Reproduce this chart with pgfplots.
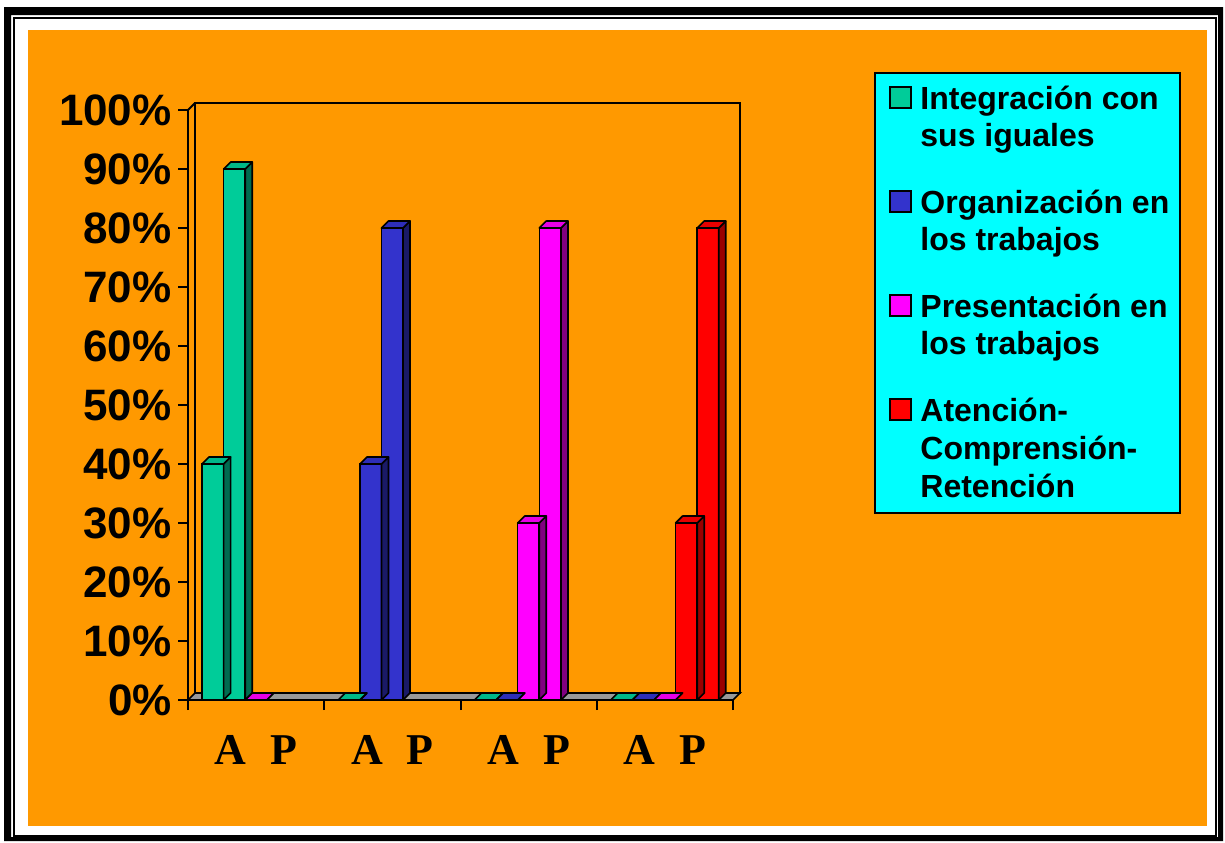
\documentclass[border=0pt]{standalone}
\usepackage{fontspec}
\setmainfont{Liberation Sans}
\newfontfamily\timesfont{Liberation Serif}
\usepackage{pgfplots}
\usepackage{pgfplotstable}
\pgfplotsset{compat=1.18}

\definecolor{bgorange}{HTML}{FF9900}
\definecolor{cgreen}{HTML}{00CC99}
\definecolor{cgreentop}{HTML}{00B88A}
\definecolor{cgreenside}{HTML}{006B50}
\definecolor{cblue}{HTML}{3333CC}
\definecolor{cbluetop}{HTML}{2E2EB8}
\definecolor{cblueside}{HTML}{1A1A66}
\definecolor{cmag}{HTML}{FF00FF}
\definecolor{cmagtop}{HTML}{E600E6}
\definecolor{cmagside}{HTML}{800080}
\definecolor{cred}{HTML}{FF0000}
\definecolor{credtop}{HTML}{E60000}
\definecolor{credside}{HTML}{990000}
\definecolor{floorgray}{HTML}{999999}
\definecolor{legcyan}{HTML}{00FFFF}

% x = group index + position of the bar inside the group
\pgfplotstableread{
x y
0.182 40
0.341 90
1.182 0
2.182 0
3.182 0
}\tgreen
\pgfplotstableread{
x y
1.341 40
1.499 80
2.341 0
3.341 0
}\tblue
\pgfplotstableread{
x y
0.499 0
2.499 30
2.658 80
3.499 0
}\tmag
\pgfplotstableread{
x y
3.658 30
3.816 80
}\tred

\pgfdeclareplotmark{empty3d}{}
\pgfplotsset{
  faces/.style 2 args={
    only marks, mark=empty3d, scatter, point meta=y,
    visualization depends on={rawy \as \rawy},
    scatter/@pre marker code/.code={%
      \pgfmathsetmacro\hhA{-\rawy*2.95}%
      \pgfmathsetmacro\hhB{3.5-\rawy*2.95}%
      \filldraw[fill=#2, draw=black, line width=0.8pt, line join=round] (5.4pt,0pt) -- (8.9pt,3.5pt) -- (8.9pt,\hhB pt) -- (5.4pt,\hhA pt) -- cycle;
      \filldraw[fill=#1, draw=black, line width=0.8pt, line join=round] (-5.4pt,0pt) -- (5.4pt,0pt) -- (8.9pt,3.5pt) -- (-1.9pt,3.5pt) -- cycle;
    },
    scatter/@post marker code/.code={},
  },
  front/.style={ybar, bar width=10.8pt, bar shift=0pt, fill=#1, draw=black, line width=0.8pt},
}

\begin{document}
\begin{tikzpicture}
\begin{scope}[x=0.5pt,y=-0.5pt]
  \fill[white] (0,0) rectangle (1225,842);
  \fill[black, even odd rule] (4,7) rectangle (1223,841) (11,15) rectangle (1218,837);
  \draw[black, line width=1pt] (14,18) rectangle (1216,836);
  \fill[bgorange] (28,30) rectangle (1207,826);
\end{scope}

\begin{axis}[
  at={(94pt,-350pt)}, anchor=south west,
  scale only axis, width=272.5pt, height=295pt,
  xmin=0, xmax=4, ymin=0, ymax=100,
  clip=false,
  axis lines=left,
  axis line style={-, line width=1pt, black},
  tick style={black, line width=1pt},
  tick align=outside,
  major tick length=5pt,
  xtick={0,1,2,3,4},
  xticklabels={,,,,},
  extra x ticks={0.5,1.5,2.5,3.5},
  extra x tick labels={{A\hspace{12pt}P},{A\hspace{12pt}P},{A\hspace{12pt}P},{A\hspace{12pt}P}},
  extra x tick style={major tick length=0pt,
    xticklabel style={font=\timesfont\bfseries\fontsize{22}{22}\selectfont, yshift=-14pt}},
  ytick={0,10,20,30,40,50,60,70,80,90,100},
  yticklabels={0\%,10\%,20\%,30\%,40\%,50\%,60\%,70\%,80\%,90\%,100\%},
  yticklabel style={font=\bfseries\fontsize{22}{22}\selectfont, inner sep=0pt, xshift=-3pt},
]
  % floor and walls
  \filldraw[fill=floorgray, draw=black, line width=0.8pt]
    (axis cs:0,0) -- (axis cs:4,0) -- (axis cs:4.0514,1.186) -- (axis cs:0.0514,1.186) -- cycle;
  \draw[black, line width=1pt] (axis cs:0.0514,1.186) rectangle (axis cs:4.0514,101.186);
  \draw[black, line width=1pt] (axis cs:0,100) -- (axis cs:0.0514,101.186);

  % depth faces
  \addplot[faces={cgreentop}{cgreenside}] table {\tgreen};
  \addplot[faces={cbluetop}{cblueside}] table {\tblue};
  \addplot[faces={cmagtop}{cmagside}] table {\tmag};
  \addplot[faces={credtop}{credside}] table {\tred};

  % front faces
  \addplot[front=cgreen] table {\tgreen};
  \addplot[front=cblue] table {\tblue};
  \addplot[front=cmag] table {\tmag};
  \addplot[front=cred] table {\tred};
\end{axis}

\begin{scope}[x=0.5pt,y=-0.5pt]
  \filldraw[fill=legcyan, draw=black, line width=1pt] (875,73) rectangle (1180,513);
  \filldraw[fill=cgreen, draw=black, line width=0.9pt] (890,87) rectangle (911,108);
  \filldraw[fill=cblue, draw=black, line width=0.9pt] (890,191) rectangle (911,212);
  \filldraw[fill=cmag, draw=black, line width=0.9pt] (890,295) rectangle (911,316);
  \filldraw[fill=cred, draw=black, line width=0.9pt] (890,399) rectangle (911,420);
  \begin{scope}[every node/.style={anchor=base west, inner sep=0pt, font=\bfseries\fontsize{16}{16}\selectfont}]
    \node at (920,109) {Integración con};
    \node at (920,146) {sus iguales};
    \node at (920,213) {Organización en};
    \node at (920,250) {los trabajos};
    \node at (920,317) {Presentación en};
    \node at (920,354) {los trabajos};
    \node at (920,421) {Atención-};
    \node at (920,459) {Comprensión-};
    \node at (920,497) {Retención};
  \end{scope}
\end{scope}
\end{tikzpicture}
\end{document}
